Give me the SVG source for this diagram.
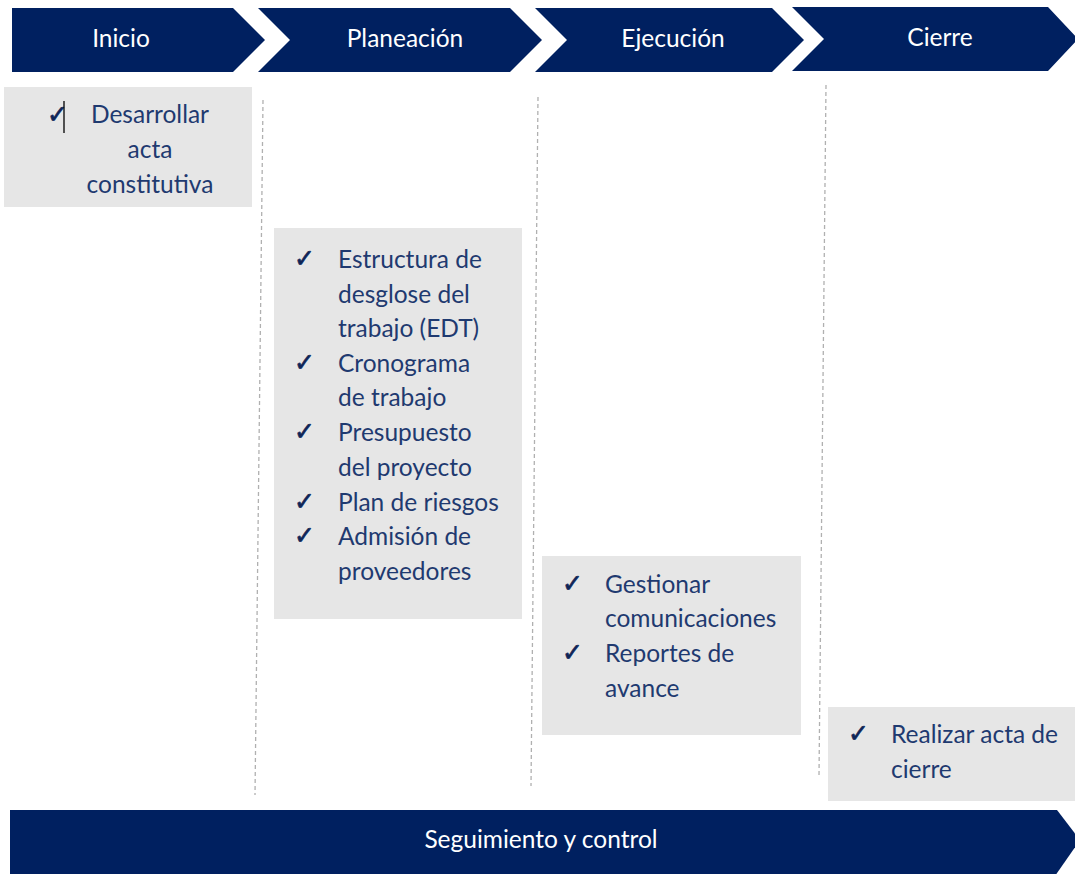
<svg xmlns="http://www.w3.org/2000/svg" width="1075" height="874" viewBox="0 0 1075 874">
<style>
.chev{fill:#002060}
.hd{font-family:Lato,"Open Sans",sans-serif;font-size:24.5px;fill:#ffffff;text-anchor:middle}
.box{fill:#e6e6e6}
.t{font-family:Lato,"Open Sans",sans-serif;font-size:24.5px;fill:#1f3a70}
.ck{font-family:"DejaVu Sans",sans-serif;font-size:25px;fill:#0f2557;stroke:#0f2557;stroke-width:0.7}
.dash{stroke:#b0b0b0;stroke-width:1.3;stroke-dasharray:4 3;fill:none}
</style>
<rect width="1075" height="874" fill="#ffffff"/>
<g id="connectors">
<line class="dash" x1="263" y1="100" x2="255" y2="795"/>
<line class="dash" x1="538" y1="97" x2="531" y2="786"/>
<line class="dash" x1="826" y1="85" x2="819" y2="776"/>
</g>
<g id="inicio">
<polygon class="chev" points="12,8 233,8 265,40 233,72 12,72"/>
<text class="hd" x="121" y="47">Inicio</text>
</g>
<g id="planeacion">
<polygon class="chev" points="258,8 510,8 542,40 510,72 258,72 290,40"/>
<text class="hd" x="405" y="47">Planeación</text>
</g>
<g id="ejecucion">
<polygon class="chev" points="535,8 772,8 804,40 772,72 535,72 567,40"/>
<text class="hd" x="673" y="47">Ejecución</text>
</g>
<g id="cierre">
<polygon class="chev" points="792,7 1048,7 1078,39 1048,71 792,71 824,39"/>
<text class="hd" x="940" y="46">Cierre</text>
</g>
<g id="box-inicio">
<rect class="box" x="4" y="87" width="248" height="120"/>
<text class="ck" x="47" y="123">✓</text>
<line x1="64" y1="101" x2="64" y2="133" stroke="#000" stroke-width="1.3"/>
<text class="t" text-anchor="middle"><tspan x="150" y="123">Desarrollar</tspan><tspan x="150" y="158">acta</tspan><tspan x="150" y="193">constitutiva</tspan></text>
</g>
<g id="box-planeacion">
<rect class="box" x="274" y="228" width="248" height="391"/>
<text class="ck"><tspan x="294" y="267">✓</tspan><tspan x="294" y="371">✓</tspan><tspan x="294" y="440">✓</tspan><tspan x="294" y="510">✓</tspan><tspan x="294" y="544">✓</tspan></text>
<text class="t"><tspan x="338" y="268">Estructura de</tspan><tspan x="338" y="303">desglose del</tspan><tspan x="338" y="337">trabajo (EDT)</tspan><tspan x="338" y="372">Cronograma</tspan><tspan x="338" y="406">de trabajo</tspan><tspan x="338" y="441">Presupuesto</tspan><tspan x="338" y="476">del proyecto</tspan><tspan x="338" y="511">Plan de riesgos</tspan><tspan x="338" y="545">Admisión de</tspan><tspan x="338" y="580">proveedores</tspan></text>
</g>
<g id="box-ejecucion">
<rect class="box" x="542" y="556" width="259" height="179"/>
<text class="ck"><tspan x="562" y="592">✓</tspan><tspan x="562" y="661">✓</tspan></text>
<text class="t"><tspan x="605" y="593">Gestionar</tspan><tspan x="605" y="627">comunicaciones</tspan><tspan x="605" y="662">Reportes de</tspan><tspan x="605" y="697">avance</tspan></text>
</g>
<g id="box-cierre">
<rect class="box" x="828" y="707" width="247" height="94"/>
<text class="ck" x="848" y="742">✓</text>
<text class="t"><tspan x="891" y="743">Realizar acta de</tspan><tspan x="891" y="778">cierre</tspan></text>
</g>
<g id="seguimiento">
<polygon class="chev" points="10,810 1057,810 1080,840 1055,876 10,876"/>
<text class="hd" x="541" y="848">Seguimiento y control</text>
</g>
</svg>
